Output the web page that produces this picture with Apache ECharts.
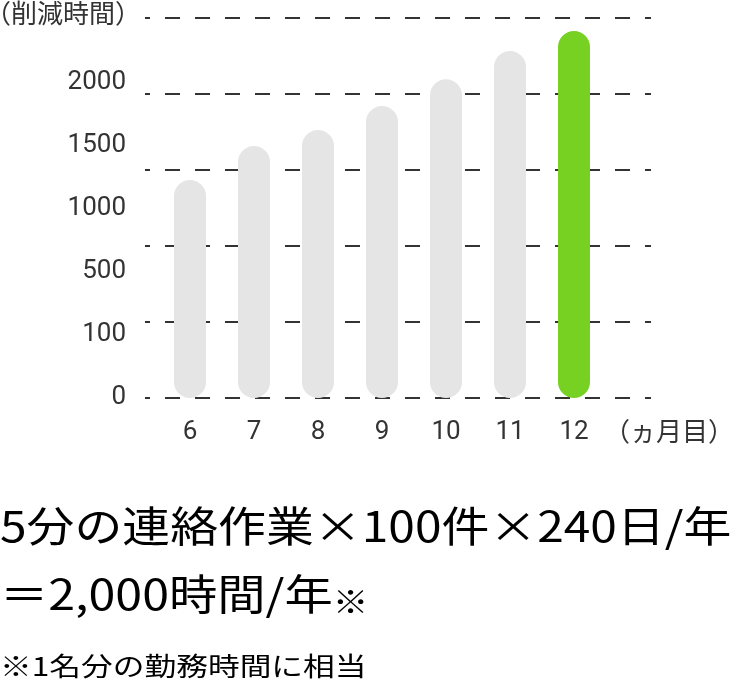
<!DOCTYPE html>
<html>
<head>
<meta charset="utf-8">
<script src="https://cdn.jsdelivr.net/npm/echarts@6/dist/echarts.min.js"></script>
<style>
  html, body { margin: 0; padding: 0; background: #ffffff; }
  #chart { width: 732px; height: 684px; }
</style>
</head>
<body>
<div id="chart"></div>
<script>
// ---- data ----
const months = ['6', '7', '8', '9', '10', '11', '12'];
const reducedHours = [1434, 1658, 1763, 1921, 2097, 2283, 2414];
const yTickLabels = ['0', '100', '500', '1000', '1500', '2000'];
const highlightMonth = '12';
const yAxisTitle = '（削減時間）';
const xAxisTitle = '（ヵ月目）';
const noteLine1 = '5分の連絡作業×100件×240日/年';
const noteLine2 = '＝2,000時間/年';
const noteMark = '※';
const footnote = '※1名分の勤務時間に相当';

const GRAY = '#e5e5e5';
const GREEN = '#77d123';
const TEXT = '#333333';
const CJK = '"Noto Sans CJK JP", sans-serif';

const chart = echarts.init(document.getElementById('chart'), null, { renderer: 'canvas' });

const option = {
  animation: false,
  backgroundColor: '#ffffff',
  grid: [
    { left: 145, top: 18, width: 506, height: 380, outerBoundsMode: 'none', containLabel: false },
    { left: 158, top: 18, width: 448, height: 380, outerBoundsMode: 'none', containLabel: false },
    { left: 134, top: 82, width: 10, height: 315, outerBoundsMode: 'none', containLabel: false }
  ],
  xAxis: [
    { gridIndex: 0, type: 'value', show: false, min: 0, max: 1 },
    {
      gridIndex: 1, type: 'category', data: months,
      axisLine: { show: false }, axisTick: { show: false },
      axisLabel: { color: TEXT, fontFamily: 'Roboto', fontSize: 26, margin: 21 }
    },
    { gridIndex: 2, type: 'value', show: false, min: 0, max: 1 }
  ],
  yAxis: [
    {
      gridIndex: 0, type: 'value', min: 0, max: 2500, interval: 500,
      axisLine: { show: false }, axisTick: { show: false }, axisLabel: { show: false },
      splitLine: { show: true, lineStyle: { color: TEXT, width: 2, type: [15, 15], dashOffset: 10 } }
    },
    {
      gridIndex: 1, type: 'value', min: 0, max: 2500, show: false, splitLine: { show: false }
    },
    {
      gridIndex: 2, type: 'category', data: yTickLabels, boundaryGap: false,
      axisLine: { show: false }, axisTick: { show: false }, splitLine: { show: false },
      axisLabel: { color: TEXT, fontFamily: 'Roboto', fontSize: 26, margin: 8 }
    }
  ],
  series: [
    {
      type: 'bar', xAxisIndex: 1, yAxisIndex: 1,
      barWidth: 32,
      data: reducedHours.map((v, i) => ({
        value: v,
        itemStyle: { color: months[i] === highlightMonth ? GREEN : GRAY, borderRadius: 16 }
      })),
      z: 3
    }
  ],
  graphic: [
    { type: 'text', x: -15, y: 0, style: { text: yAxisTitle, fill: TEXT, font: '26px ' + CJK, textVerticalAlign: 'top' } },
    { type: 'text', x: 604, y: 418, style: { text: xAxisTitle, fill: TEXT, font: '26px ' + CJK, textVerticalAlign: 'top' } },
    { type: 'text', x: 0, y: 505, scaleX: 1.14, style: { text: noteLine1, fill: '#000', font: '42px ' + CJK, textVerticalAlign: 'top' } },
    {
      type: 'text', x: 0, y: 568, scaleX: 1.15,
      style: {
        text: '{a|' + noteLine2 + '}{m|' + noteMark + '}',
        fill: '#000', font: '42px ' + CJK, textVerticalAlign: 'top',
        rich: {
          a: { fontSize: 42, fontFamily: CJK, color: '#000', lineHeight: 52 },
          m: { fontSize: 31, fontFamily: CJK, color: '#000', lineHeight: 52, verticalAlign: 'bottom', padding: [0, 0, 3, 0] }
        }
      }
    },
    { type: 'text', x: 0, y: 653, scaleX: 1.22, style: { text: footnote, fill: '#000', font: '26px ' + CJK, textVerticalAlign: 'top' } }
  ]
};
chart.setOption(option);
</script>
</body>
</html>
